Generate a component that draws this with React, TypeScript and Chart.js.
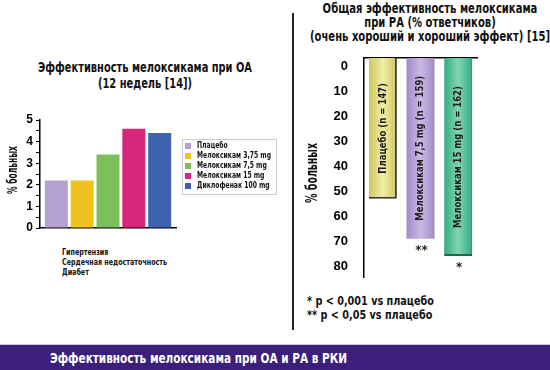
import React, { useEffect, useRef } from "react";
import { Chart, registerables } from "chart.js";

Chart.register(...registerables);

const FONT = '"DejaVu Sans", sans-serif';
const TICK_FONT = '"Liberation Sans", Arial, sans-serif';

// ---- Left chart (OA) ----
const oaTitleLines = ["Эффективность мелоксикама при ОА", "(12 недель [14])"];
const oaSeries = ["Плацебо", "Мелоксикам 3,75 mg", "Мелоксикам 7,5 mg", "Мелоксикам 15 mg", "Диклофенак 100 mg"];
const oaValues = [2.2, 2.2, 3.4, 4.6, 4.4];
const oaColors = ["#b3a1cf", "#efc31c", "#7dbf5c", "#d7277a", "#3e62ad"];
const oaMin = 0;
const oaMax = 5;
const oaAxisTitle = "% больных";
const oaNoteLines = ["Гипертензия", "Сердечная недостаточность", "Диабет"];

// ---- Right chart (RA) ----
const raTitleLines = ["Общая эффективность мелоксикама", "при РА (% ответчиков)", "(очень хороший и хороший эффект) [15]"];
const raCategories = ["Плацебо (n = 147)", "Мелоксикам 7,5 mg (n = 159)", "Мелоксикам 15 mg (n = 162)"];
const raValues = [53, 69, 76];
const raMarks = ["", "**", "*"];
const raTicks = [0, 10, 20, 30, 40, 50, 60, 70, 80];
const raAxisTitle = "% больных";
const raFootnotes = ["* p < 0,001 vs плацебо", "** p < 0,05 vs плацебо"];
const footerText = "Эффективность мелоксикама при ОА и РА в РКИ";

const raMin = -3.5;
const raMax = 84.4;
const raGradients = [
  ["#cdc65e", "#f1eea6"],
  ["#a28ac8", "#c9b9e4"],
  ["#34ab80", "#82d5b1"],
];
const raBorderWidths = [{ right: 2, bottom: 2, top: 0, left: 0 }, 0, { right: 1, bottom: 2, top: 0, left: 0 }];
const raBorderColors = ["#3b3a2a", "#a28ac8", "#1f6b50"];

let mctx: CanvasRenderingContext2D | null = null;
function textWidth(text: string, font: string): number {
  if (!mctx) mctx = document.createElement("canvas").getContext("2d");
  if (!mctx) return 1;
  mctx.font = font;
  return mctx.measureText(text).width || 1;
}
function fitScale(text: string, size: number, target: number): number {
  return target / textWidth(text, `bold ${size}px ${FONT}`);
}
function longest(list: string[], size: number): string {
  let best = list[0];
  let bw = 0;
  list.forEach((t) => {
    const w = textWidth(t, `bold ${size}px ${FONT}`);
    if (w > bw) {
      bw = w;
      best = t;
    }
  });
  return best;
}

const boxLegend = {
  id: "boxLegend",
  afterDraw(chart: any, _args: any, opts: any) {
    if (!opts || !opts.display) return;
    const ctx = chart.ctx;
    const labels: string[] = chart.data.datasets.map((d: any) => d.label);
    const sx = fitScale(longest(labels, opts.fontSize), opts.fontSize, opts.textWidth);
    ctx.save();
    ctx.strokeStyle = opts.borderColor;
    ctx.lineWidth = 1;
    ctx.strokeRect(opts.x + 0.5, opts.y + 0.5, opts.w, opts.h);
    ctx.font = `bold ${opts.fontSize}px ${FONT}`;
    ctx.textBaseline = "middle";
    ctx.textAlign = "left";
    chart.data.datasets.forEach((ds: any, i: number) => {
      const yy = opts.firstY + i * opts.step;
      ctx.fillStyle = ds.backgroundColor;
      ctx.fillRect(opts.boxX, yy - opts.box / 2, opts.box, opts.box);
      ctx.save();
      ctx.translate(opts.textX, yy);
      ctx.scale(sx, 1);
      ctx.fillStyle = "#111";
      ctx.fillText(ds.label, 0, 0);
      ctx.restore();
    });
    ctx.restore();
  },
};

const yTitle = {
  id: "yTitle",
  afterDraw(chart: any, _args: any, opts: any) {
    if (!opts || !opts.text) return;
    const ctx = chart.ctx;
    const sx = fitScale(opts.text, opts.size, opts.width);
    ctx.save();
    ctx.translate(opts.x, opts.y);
    ctx.rotate(-Math.PI / 2);
    ctx.scale(sx, 1);
    ctx.font = `bold ${opts.size}px ${FONT}`;
    ctx.fillStyle = "#111";
    ctx.textAlign = "center";
    ctx.textBaseline = "middle";
    ctx.fillText(opts.text, 0, 0);
    ctx.restore();
  },
};

const barText = {
  id: "barText",
  afterDatasetsDraw(chart: any, _args: any, opts: any) {
    const meta = chart.getDatasetMeta(0);
    const ctx = chart.ctx;
    const labels: string[] = chart.data.labels;
    const sx = fitScale(longest(labels, opts.size), opts.size, opts.width);
    meta.data.forEach((bar: any, i: number) => {
      const { x, y, base } = bar.getProps(["x", "y", "base"], true);
      const cy = (y + base) / 2;
      ctx.save();
      ctx.translate(x, cy);
      ctx.rotate(-Math.PI / 2);
      ctx.scale(sx, 1);
      ctx.font = `bold ${opts.size}px ${FONT}`;
      ctx.fillStyle = "#1c1c1c";
      ctx.textAlign = "center";
      ctx.textBaseline = "middle";
      ctx.fillText(labels[i], 0, 0);
      ctx.restore();
      const mark = opts.marks[i];
      if (mark) {
        ctx.save();
        ctx.font = `bold 12px ${FONT}`;
        ctx.fillStyle = "#222";
        ctx.textAlign = "center";
        ctx.textBaseline = "middle";
        ctx.fillText(mark, x + 1, Math.max(y, base) + 12);
        ctx.restore();
      }
    });
  },
};

function OaChart() {
  const ref = useRef<HTMLCanvasElement>(null);
  useEffect(() => {
    const chart = new Chart(ref.current as HTMLCanvasElement, {
      type: "bar",
      data: {
        labels: [""],
        datasets: oaSeries.map((label, i) => ({
          label,
          data: [oaValues[i]],
          backgroundColor: oaColors[i],
          borderWidth: 0,
        })),
      },
      options: {
        animation: false,
        responsive: false,
        maintainAspectRatio: false,
        layout: { padding: { left: 0, top: 20, right: 114, bottom: 17 } },
        datasets: { bar: { categoryPercentage: 0.95, barPercentage: 0.89 } },
        scales: {
          x: {
            ticks: { display: false },
            grid: { display: false },
            border: { display: true, color: "#000", width: 1.5 },
            afterFit: (s: any) => {
              s.height = 0;
            },
          },
          y: {
            min: oaMin,
            max: oaMax,
            ticks: {
              stepSize: 0.5,
              autoSkip: false,
              padding: 3,
              color: "#000",
              font: { family: TICK_FONT, weight: "bold", size: 12 },
              callback: (v: any) => (Number.isInteger(Number(v)) ? String(v) : ""),
            },
            grid: { display: true, drawOnChartArea: false, drawTicks: true, tickLength: 4, color: "#000", lineWidth: 1 },
            border: { display: true, color: "#000", width: 1.5 },
            afterFit: (s: any) => {
              s.width = 40;
            },
          },
        },
        plugins: {
          legend: { display: false },
          tooltip: { enabled: false },
          yTitle: { text: oaAxisTitle, x: 13, y: 70, size: 13.5, width: 48 },
          boxLegend: {
            display: true,
            x: 182,
            y: 39,
            w: 94,
            h: 55,
            firstY: 46,
            step: 10,
            box: 6,
            boxX: 185,
            textX: 197,
            fontSize: 9,
            textWidth: 74,
            borderColor: "#c5cbd9",
          },
        } as any,
      },
      plugins: [boxLegend, yTitle],
    } as any);
    return () => chart.destroy();
  }, []);
  return (
    <canvas
      ref={ref}
      width={290}
      height={145}
      style={{ position: "absolute", left: 0, top: 100, width: 290, height: 145 }}
    />
  );
}

function RaChart() {
  const ref = useRef<HTMLCanvasElement>(null);
  useEffect(() => {
    const chart = new Chart(ref.current as HTMLCanvasElement, {
      type: "bar",
      data: {
        labels: raCategories,
        datasets: [
          {
            label: "RA",
            data: raValues,
            base: raMin,
            borderWidth: raBorderWidths,
            borderColor: raBorderColors,
            borderSkipped: false,
            backgroundColor: (c: any) => {
              const chart = c.chart;
              const xs = chart.scales && chart.scales.x;
              const pair = raGradients[c.dataIndex] || raGradients[0];
              if (!xs || c.dataIndex === undefined) return pair[0];
              const cx = xs.getPixelForValue(c.dataIndex);
              const half = ((xs.right - xs.left) / raCategories.length) * 0.745 / 2;
              if (!Number.isFinite(cx) || !Number.isFinite(half) || half <= 0) return pair[0];
              const g = chart.ctx.createLinearGradient(cx - half, 0, cx + half, 0);
              g.addColorStop(0, pair[0]);
              g.addColorStop(0.5, pair[1]);
              g.addColorStop(1, pair[0]);
              return g;
            },
          },
        ],
      },
      options: {
        animation: false,
        responsive: false,
        maintainAspectRatio: false,
        layout: { padding: { left: 0, top: 8, right: 73, bottom: 13 } },
        datasets: { bar: { categoryPercentage: 1, barPercentage: 0.745 } },
        scales: {
          x: {
            position: "top",
            ticks: { display: false },
            grid: { display: false },
            border: { display: true, color: "#000", width: 1.5 },
            afterFit: (s: any) => {
              s.height = 0;
            },
          },
          y: {
            reverse: true,
            min: raMin,
            max: raMax,
            afterBuildTicks: (s: any) => {
              s.ticks = raTicks.map((v) => ({ value: v }));
            },
            ticks: {
              padding: 0,
              color: "#000",
              font: { family: TICK_FONT, weight: "bold", size: 13 },
            },
            grid: { display: true, drawOnChartArea: false, drawTicks: true, tickLength: 16, color: "rgba(0,0,0,0)" },
            border: { display: true, color: "#000", width: 1.5 },
            afterFit: (s: any) => {
              s.width = 68;
            },
          },
        },
        plugins: {
          legend: { display: false },
          tooltip: { enabled: false },
          yTitle: { text: raAxisTitle, x: 17, y: 123, size: 15.5, width: 60 },
          barText: { marks: raMarks, size: 11, width: 145 },
        } as any,
      },
      plugins: [barText, yTitle],
    } as any);
    return () => chart.destroy();
  }, []);
  return (
    <canvas
      ref={ref}
      width={254}
      height={240}
      style={{ position: "absolute", left: 296, top: 50, width: 254, height: 240 }}
    />
  );
}

function Txt(props: { x: number; y: number; size: number; text: string; sx: number; center?: boolean; color?: string }) {
  const { x, y, size, text, sx, center, color = "#111" } = props;
  const lh = Math.round(size * 1.25);
  const w = 400;
  return (
    <div
      style={{
        position: "absolute",
        left: center ? x - w / 2 : x,
        top: y - lh / 2,
        width: w,
        height: lh,
        lineHeight: `${lh}px`,
        fontSize: size,
        fontFamily: FONT,
        fontWeight: "bold",
        color,
        textAlign: center ? "center" : "left",
        whiteSpace: "nowrap",
        transform: `scaleX(${sx})`,
        transformOrigin: center ? "50% 50%" : "0 50%",
      }}
    >
      {text}
    </div>
  );
}

export default function App() {
  const oaTitleScale = fitScale(oaTitleLines[0], 13.5, 214);
  const raTitleScale = fitScale(raTitleLines[2], 13.5, 240);
  const noteScale = fitScale(longest(oaNoteLines, 9.5), 9.5, 105);
  const footScale = fitScale(raFootnotes[0], 12, 127);
  const footerScale = fitScale(footerText, 14, 297);
  return (
    <div
      style={{
        position: "fixed",
        left: 0,
        top: 0,
        width: 550,
        height: 370,
        background: "#ffffff",
        overflow: "hidden",
      }}
    >
      {oaTitleLines.map((t, i) => (
        <Txt key={"ot" + i} x={145} y={67 + i * 16.5} size={13.5} text={t} sx={oaTitleScale} center />
      ))}
      {raTitleLines.map((t, i) => (
        <Txt key={"rt" + i} x={430} y={8.5 + i * 14.2} size={13.5} text={t} sx={raTitleScale} center />
      ))}
      {oaNoteLines.map((t, i) => (
        <Txt key={"on" + i} x={62} y={252.3 + i * 10} size={9.5} text={t} sx={noteScale} />
      ))}
      {raFootnotes.map((t, i) => (
        <Txt key={"rf" + i} x={307} y={301 + i * 14} size={12} text={t} sx={footScale} />
      ))}
      <OaChart />
      <RaChart />
      <div style={{ position: "absolute", left: 292, top: 13, width: 1.6, height: 317, background: "#222" }} />
      <div
        style={{
          position: "absolute",
          left: 0,
          top: 344,
          width: 550,
          height: 26,
          background: "#3c1f7c",
          borderTop: "1px solid #cfc9dc",
        }}
      />
      <Txt x={50} y={357.5} size={14} text={footerText} sx={footerScale} color="#ffffff" />
    </div>
  );
}
